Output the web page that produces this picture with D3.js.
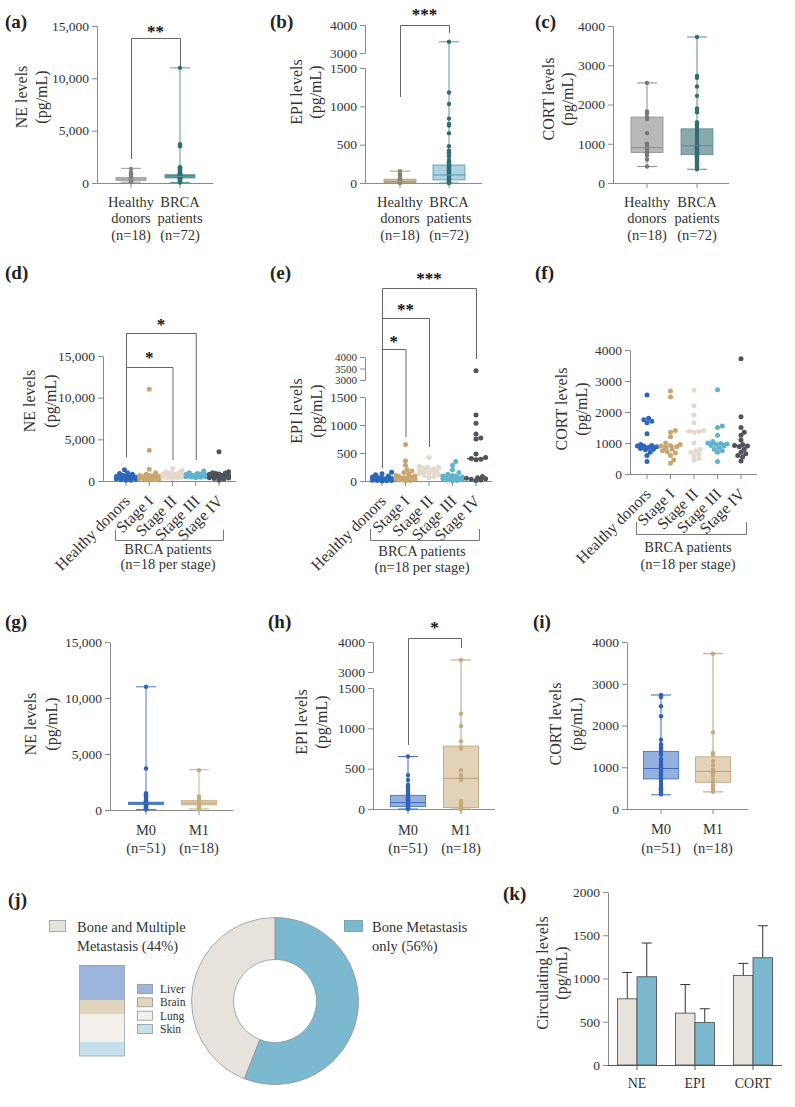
<!DOCTYPE html>
<html><head><meta charset="utf-8">
<script src="https://cdn.jsdelivr.net/npm/d3@7"></script>
<style>
body{margin:0;background:#fff}
svg{display:block}
</style></head><body>
<svg id="c" width="795" height="1107"></svg>
<script>
// ================= DATA =================
const groupsAB = ["Healthy donors", "BRCA patients"];
const groupLinesAB = [["Healthy", "donors", "(n=18)"], ["BRCA", "patients", "(n=72)"]];
const stages = ["Healthy donors", "Stage I", "Stage II", "Stage III", "Stage IV"];
const metaGroups = ["M0", "M1"];
const metaLines = [["M0", "(n=51)"], ["M1", "(n=18)"]];

// tick labels
const neTicks = [0, 5000, 10000, 15000];
const epiTicks = [0, 500, 1000, 1500, 3000, 4000];
const epiTicksE = [0, 500, 1000, 1500, 3000, 3500, 4000];
const cortTicks = [0, 1000, 2000, 3000, 4000];
const circTicks = [0, 500, 1000, 1500, 2000];

// box stats: [min, q1, median, q3, max]
const neBoxHealthy = [80, 250, 380, 520, 1400];
const neBoxBRCA = [50, 480, 640, 800, 11000];
const epiBoxHealthy = [0, 5, 20, 50, 155];
const epiBoxBRCA = [0, 40, 105, 235, 3400];
const cortBoxHealthy = [420, 780, 900, 1680, 2550];
const cortBoxBRCA = [350, 720, 950, 1380, 3720];

const nePtsHealthy = [1350, 1000, 900, 800, 700, 600, 550, 500, 450, 400, 380, 350, 300, 250, 200, 150, 100, 80];
const nePtsBRCA = [11000, 3700, 3500, 1500, 1450, 1400, 1300, 1250, 1200, 1100, 1050, 1000, 950, 900, 880, 850, 820, 800, 780, 760, 740, 720, 700, 680, 660, 650, 640, 620, 600, 580, 560, 540, 520, 500, 480, 450, 420, 400, 350, 300, 250, 200, 150, 100, 50];
const epiPtsHealthy = [155, 130, 110, 95, 80, 65, 55, 45, 40, 35, 30, 25, 20, 15, 10, 8, 5, 2];
const epiPtsBRCA = [3400, 1180, 1030, 840, 770, 750, 650, 480, 420, 400, 380, 350, 300, 280, 270, 260, 250, 240, 230, 220, 210, 200, 190, 180, 170, 160, 150, 140, 130, 120, 110, 100, 90, 80, 70, 60, 50, 40, 30, 20, 10, 5, 0];
const cortPtsHealthy = [2550, 1820, 1780, 1680, 1630, 1270, 1000, 950, 900, 890, 870, 850, 800, 780, 760, 700, 600, 420];
const cortPtsBRCA = [3720, 2730, 2700, 2680, 2460, 2220, 1900, 1870, 1800, 1550, 1500, 1450, 1400, 1350, 1300, 1250, 1200, 1150, 1100, 1050, 1000, 980, 960, 950, 940, 920, 900, 880, 860, 840, 820, 800, 780, 760, 740, 720, 700, 680, 650, 620, 600, 580, 550, 500, 450, 400, 350];

// per-stage values (d, e, f)
const neStage = [
  [1350, 1000, 900, 800, 700, 600, 550, 500, 450, 400, 380, 350, 300, 250, 200, 150, 100, 80],
  [11000, 3700, 1400, 1000, 800, 700, 650, 600, 550, 500, 450, 400, 350, 300, 250, 200, 150, 100],
  [1500, 1300, 1100, 1000, 950, 900, 850, 800, 750, 700, 650, 600, 550, 500, 450, 400, 350, 300],
  [1200, 1000, 900, 850, 800, 750, 700, 680, 650, 620, 600, 580, 550, 520, 500, 480, 450, 400],
  [3500, 1100, 1000, 950, 900, 850, 800, 700, 650, 600, 550, 500, 450, 400, 350, 300, 200, 100]
];
const epiStage = [
  [155, 130, 110, 90, 70, 60, 50, 45, 40, 35, 30, 25, 20, 15, 10, 8, 5, 2],
  [650, 360, 280, 200, 180, 150, 120, 100, 90, 80, 70, 60, 50, 40, 30, 20, 10, 5],
  [420, 260, 250, 240, 230, 220, 200, 190, 180, 170, 160, 150, 140, 130, 110, 100, 80, 60],
  [350, 280, 200, 150, 120, 100, 90, 80, 70, 60, 55, 50, 45, 40, 30, 20, 10, 5],
  [3400, 1180, 1030, 840, 770, 750, 480, 420, 400, 390, 380, 80, 60, 50, 40, 30, 20, 10]
];
const cortStage = [
  [2550, 1800, 1750, 1700, 1650, 1300, 950, 920, 900, 900, 880, 850, 820, 800, 780, 700, 600, 400],
  [2680, 2480, 1400, 1350, 1200, 1000, 950, 920, 900, 880, 850, 800, 750, 720, 680, 600, 450, 350],
  [2700, 2200, 1900, 1650, 1400, 1380, 1370, 1350, 1000, 800, 750, 700, 650, 600, 500, 450],
  [2720, 1550, 1500, 1250, 1050, 1000, 980, 970, 950, 920, 900, 850, 800, 750, 700, 400],
  [3720, 1850, 1500, 1350, 1250, 1100, 950, 920, 900, 880, 800, 700, 650, 600, 550, 420]
];
const neStageMedian = [380, 450, 700, 640, 620];
const epiStageMedian = [35, 75, 175, 60, 400];
const cortStageMedian = [900, 900, 1380, 980, 920];

// M0 / M1 (g, h, i)
const neBoxM0 = [50, 480, 600, 700, 11000];
const neBoxM1 = [100, 450, 600, 850, 3600];
const epiBoxM0 = [0, 30, 80, 170, 650];
const epiBoxM1 = [0, 20, 380, 780, 3400];
const cortBoxM0 = [340, 720, 970, 1380, 2730];
const cortBoxM1 = [410, 640, 900, 1250, 3720];
const nePtsM0 = [11000, 3700, 1500, 1400, 1300, 1200, 1100, 1000, 900, 850, 800, 750, 700, 680, 650, 620, 600, 580, 550, 520, 500, 480, 450, 400, 350, 300, 250, 200, 150, 100, 50];
const nePtsM1 = [3550, 1200, 1000, 900, 850, 800, 700, 650, 600, 550, 500, 450, 400, 300, 200, 100];
const epiPtsM0 = [650, 420, 360, 300, 280, 260, 240, 220, 200, 180, 160, 150, 140, 130, 120, 110, 100, 90, 80, 70, 60, 50, 40, 30, 20, 10, 5, 0];
const epiPtsM1 = [3400, 1180, 1030, 840, 760, 750, 480, 420, 380, 360, 100, 80, 60, 40, 20, 10, 5, 0];
const cortPtsM0 = [2730, 2700, 2680, 2460, 2220, 1660, 1550, 1500, 1450, 1400, 1350, 1300, 1200, 1150, 1100, 1050, 1000, 970, 950, 900, 850, 800, 750, 720, 700, 650, 600, 550, 500, 450, 400, 350];
const cortPtsM1 = [3720, 1840, 1350, 1300, 1150, 1050, 950, 900, 880, 850, 800, 700, 650, 600, 550, 500, 450, 410];

// (j) metastasis distribution
const donutLabels = ["Bone Metastasis only", "Bone and Multiple Metastasis"];
const donutValues = [56, 44];
const siteLabels = ["Liver", "Brain", "Lung", "Skin"];
const siteCounts = [5, 2, 4, 2];

// (k) circulating levels
const hormones = ["NE", "EPI", "CORT"];
const kGroups = ["Bone and Multiple Metastasis", "Bone Metastasis only"];
const kMeanMulti = [765, 600, 1035];
const kErrMulti = [305, 330, 140];
const kMeanOnly = [1020, 490, 1240];
const kErrOnly = [390, 160, 370];

// ================= DRAWING =================
const FONT = '"Liberation Serif", "Times New Roman", serif';
const TXT = "#333";
const AX = "#8a8a8a";
const svg = d3.select("#c").attr("font-family", FONT);

function buildY(p) {
  if (!p.brk) {
    const s = d3.scaleLinear().domain([0, p.max]).range([p.y0, p.yTop]);
    return { f: s, segs: [{ s, ticks: p.ticks }] };
  }
  const lo = d3.scaleLinear().domain([0, p.brk[0]]).range([p.y0, p.yLo]);
  const hi = d3.scaleLinear().domain([p.brk[1], p.max]).range([p.yHi, p.yTop]);
  const f = v => v <= p.brk[0] ? lo(v) : v >= p.brk[1] ? hi(v)
    : lo(p.brk[0]) + (v - p.brk[0]) / (p.brk[1] - p.brk[0]) * (hi(p.brk[1]) - lo(p.brk[0]));
  return { f, segs: [{ s: lo, ticks: p.ticks.filter(t => t <= p.brk[0]) }, { s: hi, ticks: p.ticks.filter(t => t >= p.brk[1]), hi: true }] };
}
function yAxis(p, Y) {
  Y.segs.forEach(sg => {
    const ax = svg.append("g").attr("transform", `translate(${p.ax},0)`)
      .call(d3.axisLeft(sg.s).tickValues(sg.ticks).tickSize(5).tickSizeOuter(0).tickPadding(3).tickFormat(p.fmt || d3.format("d")));
    ax.attr("font-family", FONT).attr("font-size", (sg.hi && p.hiFont) ? p.hiFont : 13.5);
    ax.selectAll("path,line").attr("stroke", AX);
    ax.selectAll("text").attr("fill", TXT);
  });
}
function xAxis(p, xs, cats) {
  svg.append("line").attr("x1", p.ax).attr("x2", p.xEnd).attr("y1", p.y0 + 0.5).attr("y2", p.y0 + 0.5).attr("stroke", AX);
  cats.forEach(c => svg.append("line").attr("x1", xs(c)).attr("x2", xs(c)).attr("y1", p.y0).attr("y2", p.y0 + 5).attr("stroke", AX));
}
function ylab(x1, x2, yc, l1, l2) {
  [[x1, l1], [x2, l2]].forEach(([x, t]) => svg.append("text").attr("transform", `translate(${x},${yc}) rotate(-90)`)
    .attr("text-anchor", "middle").attr("dy", "0.35em").attr("font-size", 16).attr("fill", TXT).text(t));
}
function panelLabel(x, y, t) {
  svg.append("text").attr("x", x).attr("y", y).attr("font-size", 19).attr("font-weight", "bold").attr("fill", "#222").text(t);
}
function xLines(xs, cats, lines, ys) {
  cats.forEach((c, i) => lines[i].forEach((t, j) => svg.append("text").attr("x", xs(c)).attr("y", ys[j]).attr("dy", "0.35em")
    .attr("text-anchor", "middle").attr("font-size", 14.5).attr("fill", TXT).text(t)));
}
function bracket(x1, x2, yTop, yL, yR, label, yLab) {
  svg.append("path").attr("d", `M${x1 + 0.5},${yL}V${yTop + 0.5}H${x2 + 0.5}V${yR}`).attr("fill", "none").attr("stroke", "#666");
  svg.append("text").attr("x", (x1 + x2) / 2).attr("y", yLab + 8).attr("text-anchor", "middle").attr("font-size", 17)
    .attr("font-weight", "bold").attr("fill", "#111").text(label);
}
function boxes(p, Y, xs, cats, stats, pts, st, bw) {
  cats.forEach((c, i) => {
    const x = xs(c), b = stats[i], s = st[i];
    const g = svg.append("g");
    g.append("line").attr("x1", x).attr("x2", x).attr("y1", Y.f(b[0])).attr("y2", Y.f(b[4])).attr("stroke", s.line);
    [b[0], b[4]].forEach(v => g.append("line").attr("x1", x - 10).attr("x2", x + 10).attr("y1", Y.f(v)).attr("y2", Y.f(v)).attr("stroke", s.line));
    g.append("rect").attr("x", x - bw / 2).attr("width", bw).attr("y", Y.f(b[3])).attr("height", Math.max(1, Y.f(b[1]) - Y.f(b[3])))
      .attr("fill", s.fill).attr("stroke", s.line).attr("stroke-width", 0.8);
    g.selectAll("circle").data(pts[i]).join("circle").attr("cx", x).attr("cy", v => Y.f(v)).attr("r", 2.2).attr("fill", s.pt);
    g.append("line").attr("x1", x - bw / 2).attr("x2", x + bw / 2).attr("y1", Y.f(b[2])).attr("y2", Y.f(b[2])).attr("stroke", s.line);
  });
}
function swarm(vals, yf, r, maxW) {
  const placed = [];
  const arr = vals.map(v => ({ v, y: yf(v), x: 0 })).sort((a, b) => b.y - a.y);
  const offs = [0];
  for (let k = 1; k * 1.6 <= maxW; k++) offs.push(k * 1.6, -k * 1.6);
  arr.forEach(p => {
    let best = 0, bestD = -1;
    for (const off of offs) {
      const dmin = placed.length ? d3.min(placed, q => Math.hypot(q.x - off, q.y - p.y)) : 99;
      if (dmin >= 1.7 * r) { best = off; bestD = dmin; break; }
      if (dmin > bestD) { bestD = dmin; best = off; }
    }
    p.x = best; placed.push(p);
  });
  return arr;
}
const stageCol = ["#2d66bd", "#c9a66f", "#e3d9cc", "#5fb3cf", "#4f535b"];
function scatter(p, Y, xs, vals, meds) {
  stages.forEach((c, i) => {
    const x = xs(c);
    const g = svg.append("g");
    swarm(vals[i], Y.f, 2.5, 10).forEach(d => g.append("circle").attr("cx", x + d.x).attr("cy", d.y).attr("r", 2.5).attr("fill", stageCol[i]));
    g.append("line").attr("x1", x - 9).attr("x2", x + 9).attr("y1", Y.f(meds[i])).attr("y2", Y.f(meds[i])).attr("stroke", stageCol[i]).attr("stroke-width", 1.5);
  });
}
function stageLabels(p, xs) {
  stages.forEach(s => svg.append("text").attr("transform", `translate(${xs(s) + 5},${p.y0 + 21}) rotate(-45)`)
    .attr("text-anchor", "end").attr("font-size", 16).attr("fill", TXT).text(s));
}
function underBracket(x1, x2, yb, yt, xc, y1, y2) {
  svg.append("path").attr("d", `M${x1 + 0.5},${yt}V${yb + 0.5}H${x2 + 0.5}V${yt}`).attr("fill", "none").attr("stroke", "#777");
  svg.append("text").attr("x", xc).attr("y", y1).attr("dy", "0.35em").attr("text-anchor", "middle").attr("font-size", 14.5).attr("fill", TXT).text("BRCA patients");
  svg.append("text").attr("x", xc).attr("y", y2).attr("dy", "0.35em").attr("text-anchor", "middle").attr("font-size", 14.5).attr("fill", TXT).text("(n=18 per stage)");
}

// ---- Panel (a)
{
  const p = { ax: 97, xEnd: 213, y0: 183, yTop: 26, max: 15000, ticks: neTicks, fmt: d3.format(",") };
  const Y = buildY(p); const xs = d3.scalePoint().domain(groupsAB).range([131, 180]);
  yAxis(p, Y); xAxis(p, xs, groupsAB);
  boxes(p, Y, xs, groupsAB, [neBoxHealthy, neBoxBRCA], [nePtsHealthy, nePtsBRCA],
    [{ fill: "#bdbdbd", line: "#9a9a9a", pt: "#7f7f7f" }, { fill: "#4f8b91", line: "#5f9aa0", pt: "#2f6f75" }], 30);
  xLines(xs, groupsAB, groupLinesAB, [202, 218, 235]);
  ylab(21, 41, 97, "NE levels", "(pg/mL)");
  bracket(xs(groupsAB[0]), xs(groupsAB[1]), 38, 159, 66, "**", 29);
  panelLabel(5, 28, "(a)");
}
// ---- Panel (b)
{
  const p = { ax: 365, xEnd: 482, y0: 183, yLo: 68, yHi: 53, yTop: 25, brk: [1500, 3000], max: 4000, ticks: epiTicks };
  const Y = buildY(p); const xs = d3.scalePoint().domain(groupsAB).range([400, 449]);
  yAxis(p, Y); xAxis(p, xs, groupsAB);
  boxes(p, Y, xs, groupsAB, [epiBoxHealthy, epiBoxBRCA], [epiPtsHealthy, epiPtsBRCA],
    [{ fill: "#cdbf9f", line: "#a89c80", pt: "#86836f" }, { fill: "#aad4e4", line: "#5d96a3", pt: "#2f6e74" }], 32);
  xLines(xs, groupsAB, groupLinesAB, [202, 218, 235]);
  ylab(296, 315, 92, "EPI levels", "(pg/mL)");
  bracket(xs(groupsAB[0]), xs(groupsAB[1]), 25, 97, 33, "***", 12);
  panelLabel(270, 28, "(b)");
}
// ---- Panel (c)
{
  const p = { ax: 613, xEnd: 729, y0: 183, yTop: 26, max: 4000, ticks: cortTicks };
  const Y = buildY(p); const xs = d3.scalePoint().domain(groupsAB).range([647, 697]);
  yAxis(p, Y); xAxis(p, xs, groupsAB);
  boxes(p, Y, xs, groupsAB, [cortBoxHealthy, cortBoxBRCA], [cortPtsHealthy, cortPtsBRCA],
    [{ fill: "#b9b9b9", line: "#8c8c8c", pt: "#777777" }, { fill: "#89a9ad", line: "#5f8b90", pt: "#2f6e74" }], 32);
  xLines(xs, groupsAB, groupLinesAB, [202, 218, 235]);
  ylab(548, 567, 99, "CORT levels", "(pg/mL)");
  panelLabel(535, 28, "(c)");
}
// ---- Panel (d)
{
  const p = { ax: 103, xEnd: 236, y0: 481, yTop: 356, max: 15000, ticks: neTicks, fmt: d3.format(",") };
  const Y = buildY(p); const xs = d3.scalePoint().domain(stages).range([126, 219]);
  yAxis(p, Y); xAxis(p, xs, stages);
  scatter(p, Y, xs, neStage, neStageMedian);
  stageLabels(p, xs);
  underBracket(115, 223, 540, 530, 168, 549, 564);
  ylab(29, 50, 401, "NE levels", "(pg/mL)");
  bracket(xs(stages[0]), xs(stages[3]), 333, 457, 460, "*", 322);
  bracket(xs(stages[0]), xs(stages[2]), 367, 457, 460, "*", 355);
  panelLabel(5, 279, "(d)");
}
// ---- Panel (e)
{
  const p = { ax: 365, xEnd: 492, y0: 481, yLo: 397, yHi: 380, yTop: 357, brk: [1500, 3000], max: 4000, ticks: epiTicksE, hiFont: 11 };
  const Y = buildY(p); const xs = d3.scalePoint().domain(stages).range([382, 476]);
  yAxis(p, Y); xAxis(p, xs, stages);
  scatter(p, Y, xs, epiStage, epiStageMedian);
  stageLabels(p, xs);
  underBracket(370, 479, 540, 529, 422, 551, 567);
  ylab(296, 316, 411, "EPI levels", "(pg/mL)");
  bracket(xs(stages[0]), xs(stages[4]), 288, 468, 359, "***", 276);
  bracket(xs(stages[0]), xs(stages[2]), 318, 468, 447, "**", 307);
  bracket(xs(stages[0]), xs(stages[1]), 349, 468, 437, "*", 339);
  panelLabel(270, 279, "(e)");
}
// ---- Panel (f)
{
  const p = { ax: 630, xEnd: 757, y0: 474, yTop: 350, max: 4000, ticks: cortTicks };
  const Y = buildY(p); const xs = d3.scalePoint().domain(stages).range([647, 741]);
  yAxis(p, Y); xAxis(p, xs, stages);
  scatter(p, Y, xs, cortStage, cortStageMedian);
  stageLabels(p, xs);
  underBracket(636, 746, 534, 522, 688, 547, 564);
  ylab(561, 581, 409, "CORT levels", "(pg/mL)");
  panelLabel(535, 279, "(f)");
}
// ---- Panel (g)
const stM = [{ fill: "#93b0df", line: "#3c6bb9", pt: "#2d62b8" }, { fill: "#e2d3b8", line: "#b9a078", pt: "#c6aa7c" }];
{
  const p = { ax: 110, xEnd: 233, y0: 810, yTop: 642, max: 15000, ticks: neTicks, fmt: d3.format(",") };
  const Y = buildY(p); const xs = d3.scalePoint().domain(metaGroups).range([146, 199]);
  yAxis(p, Y); xAxis(p, xs, metaGroups);
  boxes(p, Y, xs, metaGroups, [neBoxM0, neBoxM1], [nePtsM0, nePtsM1],
    [{ fill: "#4573c2", line: "#4a78c6", pt: "#2d62b8" }, { fill: "#d8c5a2", line: "#c9b38c", pt: "#c6aa7c" }], 35);
  xLines(xs, metaGroups, metaLines, [830, 848]);
  ylab(30, 51, 724, "NE levels", "(pg/mL)");
  panelLabel(5, 628, "(g)");
}
// ---- Panel (h)
{
  const p = { ax: 373, xEnd: 495, y0: 809, yLo: 688, yHi: 672, yTop: 642, brk: [1500, 3000], max: 4000, ticks: epiTicks };
  const Y = buildY(p); const xs = d3.scalePoint().domain(metaGroups).range([408, 461]);
  yAxis(p, Y); xAxis(p, xs, metaGroups);
  boxes(p, Y, xs, metaGroups, [epiBoxM0, epiBoxM1], [epiPtsM0, epiPtsM1], stM, 35);
  xLines(xs, metaGroups, metaLines, [830, 848]);
  ylab(301, 321, 722, "EPI levels", "(pg/mL)");
  bracket(xs(metaGroups[0]), xs(metaGroups[1]), 638, 745, 648, "*", 625);
  panelLabel(268, 628, "(h)");
}
// ---- Panel (i)
{
  const p = { ax: 627, xEnd: 748, y0: 809, yTop: 642, max: 4000, ticks: cortTicks };
  const Y = buildY(p); const xs = d3.scalePoint().domain(metaGroups).range([661, 713]);
  yAxis(p, Y); xAxis(p, xs, metaGroups);
  boxes(p, Y, xs, metaGroups, [cortBoxM0, cortBoxM1], [cortPtsM0, cortPtsM1], stM, 35);
  xLines(xs, metaGroups, metaLines, [829, 848]);
  ylab(555, 576, 724, "CORT levels", "(pg/mL)");
  panelLabel(533, 628, "(i)");
}
// ---- Panel (j)
const colOnly = "#7cb9d0", colMulti = "#e8e2dc";
{
  const cx = 275, cy = 1001;
  const pie = d3.pie().sort(null)(donutValues);
  const arc = d3.arc().innerRadius(41.5).outerRadius(83.5);
  svg.append("g").attr("transform", `translate(${cx},${cy})`).selectAll("path").data(pie).join("path")
    .attr("d", arc).attr("fill", (d, i) => i === 0 ? colOnly : colMulti).attr("stroke", "#8a8a8a").attr("stroke-width", 0.7);
  svg.append("rect").attr("x", 49.5).attr("y", 920.5).attr("width", 16).attr("height", 11).attr("fill", colMulti).attr("stroke", "#8a8a8a").attr("stroke-width", 0.7);
  svg.append("text").attr("x", 77).attr("y", 927).attr("dy", "0.35em").attr("font-size", 14.5).attr("fill", TXT).text("Bone and Multiple");
  svg.append("text").attr("x", 77).attr("y", 946).attr("dy", "0.35em").attr("font-size", 14.5).attr("fill", TXT).text("Metastasis (44%)");
  svg.append("rect").attr("x", 344.5).attr("y", 920.5).attr("width", 18).attr("height", 11).attr("fill", colOnly).attr("stroke", "#5c8fa3").attr("stroke-width", 0.7);
  svg.append("text").attr("x", 372).attr("y", 927).attr("dy", "0.35em").attr("font-size", 14.5).attr("fill", TXT).text("Bone Metastasis");
  svg.append("text").attr("x", 372).attr("y", 946).attr("dy", "0.35em").attr("font-size", 14.5).attr("fill", TXT).text("only (56%)");
  const siteCol = ["#9db4dd", "#e2d5bf", "#f3f0eb", "#c6e1eb"];
  const tot = d3.sum(siteCounts);
  const sy = d3.scaleLinear().domain([0, tot]).range([965, 1056]);
  let acc = 0;
  siteCounts.forEach((v, i) => {
    svg.append("rect").attr("x", 79.5).attr("width", 45).attr("y", sy(acc)).attr("height", sy(acc + v) - sy(acc)).attr("fill", siteCol[i]);
    acc += v;
  });
  svg.append("rect").attr("x", 79.5).attr("y", 965.5).attr("width", 45).attr("height", 90.5).attr("fill", "none").attr("stroke", "#999").attr("stroke-width", 0.7);
  const ly = d3.scalePoint().domain(siteLabels).range([989, 1029]);
  siteLabels.forEach((s, i) => {
    svg.append("rect").attr("x", 137.5).attr("y", ly(s) - 4.5).attr("width", 15).attr("height", 9).attr("fill", siteCol[i]).attr("stroke", "#888").attr("stroke-width", 0.7);
    svg.append("text").attr("x", 160).attr("y", ly(s)).attr("dy", "0.35em").attr("font-size", 11.5).attr("fill", TXT).text(s);
  });
  panelLabel(8, 906, "(j)");
}
// ---- Panel (k)
{
  const p = { ax: 608, xEnd: 782, y0: 1065, yTop: 892, max: 2000, ticks: circTicks };
  const Y = buildY(p);
  const xs = d3.scalePoint().domain(hormones).range([637, 753]);
  const xi = d3.scaleBand().domain(kGroups).range([-19.5, 19.5]);
  const means = [kMeanMulti, kMeanOnly], errs = [kErrMulti, kErrOnly], cols = [colMulti, colOnly];
  kGroups.forEach((gname, gi) => hormones.forEach((h, i) => {
    const x = xs(h) + xi(gname), w = xi.bandwidth(), xc = x + w / 2;
    const top = Y.f(means[gi][i]), et = Y.f(means[gi][i] + errs[gi][i]);
    svg.append("line").attr("x1", xc).attr("x2", xc).attr("y1", top).attr("y2", et).attr("stroke", "#333");
    svg.append("line").attr("x1", xc - 5).attr("x2", xc + 5).attr("y1", et).attr("y2", et).attr("stroke", "#333");
    svg.append("rect").attr("x", x).attr("width", w).attr("y", top).attr("height", p.y0 - top)
      .attr("fill", cols[gi]).attr("stroke", "#444").attr("stroke-width", 0.8);
  }));
  yAxis(p, Y);
  svg.append("line").attr("x1", p.ax).attr("x2", p.xEnd).attr("y1", p.y0 + 0.5).attr("y2", p.y0 + 0.5).attr("stroke", "#555");
  hormones.forEach(h => svg.append("line").attr("x1", xs(h)).attr("x2", xs(h)).attr("y1", p.y0).attr("y2", p.y0 + 5).attr("stroke", "#555"));
  hormones.forEach(h => svg.append("text").attr("x", xs(h)).attr("y", 1083).attr("dy", "0.35em").attr("text-anchor", "middle").attr("font-size", 14).attr("fill", TXT).text(h));
  ylab(542, 561, 973, "Circulating levels", "(pg/mL)");
  panelLabel(503, 900, "(k)");
}
</script></body></html>
